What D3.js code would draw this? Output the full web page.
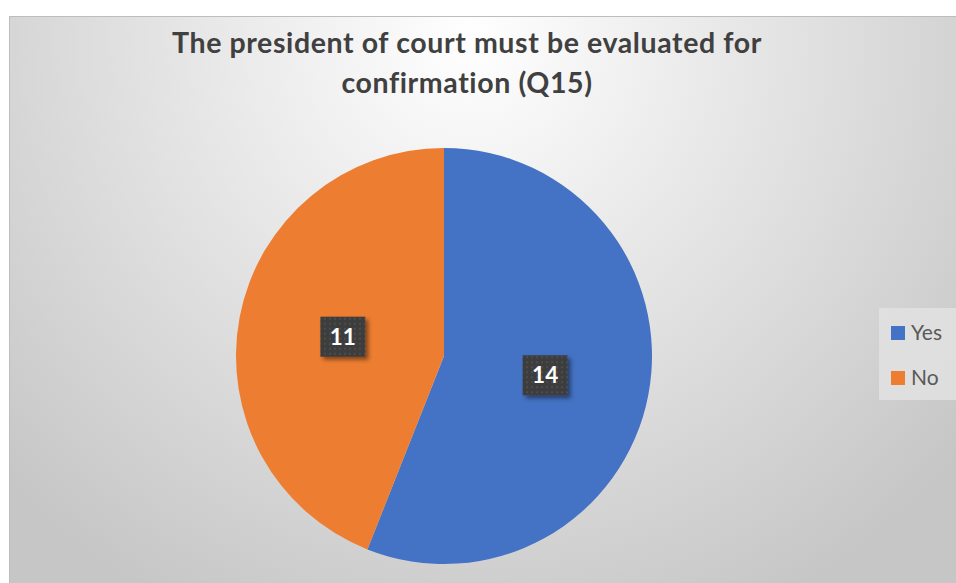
<!DOCTYPE html>
<html>
<head>
<meta charset="utf-8">
<script src="https://cdn.jsdelivr.net/npm/d3@7"></script>
<style>
  html, body { margin: 0; padding: 0; background: #ffffff; }
  svg { display: block; }
</style>
</head>
<body>
<svg id="chart" width="956" height="583"></svg>
<script>
// Survey answers for Q15
const categories = ["Yes", "No"];
const counts = [14, 11];
const colors = ["#4472c4", "#ed7d31"];
const titleLines = ["The president of court must be evaluated for", "confirmation (Q15)"];

const W = 956, H = 583;
const svg = d3.select("#chart");
const defs = svg.append("defs");

// Soft radial background of the chart area
const bg = defs.append("radialGradient")
  .attr("id", "bgGrad")
  .attr("gradientUnits", "userSpaceOnUse")
  .attr("cx", 470).attr("cy", 40).attr("r", 640);
bg.append("stop").attr("offset", "0%").attr("stop-color", "#ffffff");
bg.append("stop").attr("offset", "35%").attr("stop-color", "#ebebeb");
bg.append("stop").attr("offset", "100%").attr("stop-color", "#c6c6c6");

// Dotted dark fill for the data labels
const pat = defs.append("pattern")
  .attr("id", "labelFill")
  .attr("patternUnits", "userSpaceOnUse")
  .attr("width", 5).attr("height", 5);
pat.append("rect").attr("width", 5).attr("height", 5).attr("fill", "#3c3c3c");
pat.append("rect").attr("x", 1).attr("y", 1).attr("width", 2).attr("height", 2).attr("fill", "#4d4d4d");

const shadow = defs.append("filter").attr("id", "labelShadow")
  .attr("x", "-30%").attr("y", "-30%").attr("width", "160%").attr("height", "160%");
shadow.append("feDropShadow")
  .attr("dx", 3).attr("dy", 3).attr("stdDeviation", 2.2)
  .attr("flood-color", "#000000").attr("flood-opacity", 0.45);

// Chart area
svg.append("rect")
  .attr("x", 9.5).attr("y", 16.5)
  .attr("width", W).attr("height", H)
  .attr("fill", "url(#bgGrad)")
  .attr("stroke", "#bdbdbd").attr("stroke-width", 1);

// Title
const title = svg.append("text")
  .attr("text-anchor", "middle")
  .attr("font-family", "Lato, 'Open Sans', sans-serif")
  .attr("font-weight", "bold")
  .attr("font-size", 28.5)
  .attr("fill", "#404040");
titleLines.forEach((t, i) => {
  title.append("tspan").attr("x", 467).attr("y", 53 + i * 40).text(t);
});
// tighten the spacing so the first line keeps its width
const firstLine = titleLines[0];
const firstLen = title.select("tspan").node().getComputedTextLength();
title.attr("letter-spacing", (590 - firstLen) / firstLine.length);

// Pie
const cx = 444, cy = 356, R = 208;
const pie = d3.pie().sort(null).value(d => d.value);
const arcs = pie(categories.map((c, i) => ({ name: c, value: counts[i], color: colors[i] })));
const arc = d3.arc().innerRadius(0).outerRadius(R);
const labelArc = d3.arc().innerRadius(R * 0.495).outerRadius(R * 0.495);

const g = svg.append("g").attr("transform", `translate(${cx},${cy})`);
g.selectAll("path.slice")
  .data(arcs)
  .join("path")
  .attr("class", "slice")
  .attr("d", arc)
  .attr("fill", d => d.data.color);

// Data labels
const lab = g.selectAll("g.lbl")
  .data(arcs)
  .join("g")
  .attr("class", "lbl")
  .attr("transform", d => `translate(${labelArc.centroid(d)})`);
lab.append("rect")
  .attr("x", -22.5).attr("y", -20)
  .attr("width", 45).attr("height", 40)
  .attr("fill", "url(#labelFill)")
  .attr("filter", "url(#labelShadow)");
lab.append("text")
  .attr("text-anchor", "middle")
  .attr("dy", "0.36em")
  .attr("font-family", "Lato, 'Open Sans', sans-serif")
  .attr("font-weight", "bold")
  .attr("font-size", 22.5)
  .attr("fill", "#ffffff")
  .text(d => d.data.value);

// Legend
const legend = svg.append("g");
legend.append("rect")
  .attr("x", 879).attr("y", 308)
  .attr("width", 90).attr("height", 92)
  .attr("fill", "#e2e2e2").attr("fill-opacity", 0.85);
const items = legend.selectAll("g.item")
  .data(categories)
  .join("g")
  .attr("class", "item")
  .attr("transform", (d, i) => `translate(891,${326 + i * 45})`);
items.append("rect")
  .attr("width", 14).attr("height", 14)
  .attr("fill", (d, i) => colors[i]);
items.append("text")
  .attr("x", 20).attr("y", 14)
  .attr("font-family", "Lato, 'Open Sans', sans-serif")
  .attr("font-size", 21)
  .attr("fill", "#595959")
  .text(d => d);
</script>
</body>
</html>
